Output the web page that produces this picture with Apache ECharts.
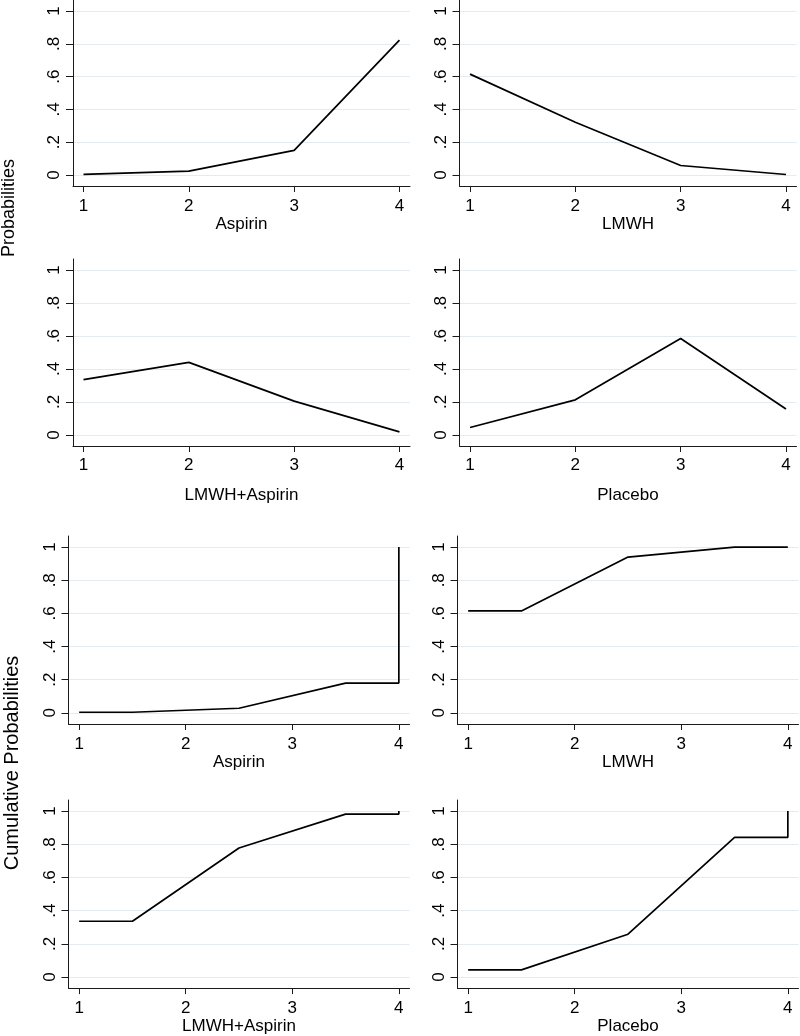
<!DOCTYPE html>
<html>
<head>
<meta charset="utf-8">
<script src="https://cdn.jsdelivr.net/npm/echarts@6/dist/echarts.min.js"></script>
<style>
html,body{margin:0;padding:0;background:#fff;}
#chart{width:800px;height:1036px;}
</style>
</head>
<body>
<div id="chart"></div>
<script>
// ---- data ----
const ranks = [1, 2, 3, 4];
const treatments = ['Aspirin', 'LMWH', 'LMWH+Aspirin', 'Placebo'];
const probAspirin = [0.004, 0.024, 0.150, 0.822];
const probLMWH = [0.615, 0.322, 0.058, 0.003];
const probLMWHAspirin = [0.335, 0.440, 0.205, 0.019];
const probPlacebo = [0.045, 0.213, 0.585, 0.157];
const cumX = [1, 1.5, 2.5, 3.5, 4, 4];
const cumAspirin = [0.004, 0.004, 0.028, 0.180, 0.180, 1];
const cumLMWH = [0.615, 0.615, 0.940, 1.000, 1.000, 1];
const cumLMWHAspirin = [0.336, 0.336, 0.778, 0.982, 0.982, 1];
const cumPlacebo = [0.043, 0.043, 0.258, 0.842, 0.842, 1];
const yTicks = [0, 0.2, 0.4, 0.6, 0.8, 1];
const yTickLabels = ['0', '.2', '.4', '.6', '.8', '1'];
const xTicks = [1, 2, 3, 4];
const yTitleTop = 'Probabilities';
const yTitleBottom = 'Cumulative Probabilities';

// ---- layout ----
const FONT = '"Liberation Sans", Arial, Helvetica, sans-serif';
const grids = [
  {left: 73,    top: 0,   width: 337, height: 186, nameGap: 28, labelMargin: 12},
  {left: 459.5, top: 0,   width: 337, height: 186, nameGap: 28, labelMargin: 12},
  {left: 73,    top: 259, width: 337, height: 187, nameGap: 41, labelMargin: 11},
  {left: 459.5, top: 259, width: 337, height: 187, nameGap: 41, labelMargin: 11},
  {left: 68.5,  top: 536, width: 341, height: 188, nameGap: 20, labelMargin: 12},
  {left: 457.5, top: 536, width: 341, height: 188, nameGap: 20, labelMargin: 12},
  {left: 68.5,  top: 800, width: 341, height: 189, nameGap: 28, labelMargin: 12},
  {left: 457.5, top: 800, width: 341, height: 189, nameGap: 28, labelMargin: 12}
];
const probSeries = [probAspirin, probLMWH, probLMWHAspirin, probPlacebo];
const cumSeries = [cumAspirin, cumLMWH, cumLMWHAspirin, cumPlacebo];

const option = {
  animation: false,
  backgroundColor: '#ffffff',
  textStyle: {fontFamily: FONT},
  grid: grids.map(g => ({left: g.left, top: g.top, width: g.width, height: g.height, containLabel: false})),
  xAxis: grids.map((g, i) => ({
    type: 'value', gridIndex: i, min: 0.9, max: 4.1,
    name: treatments[i % 4], nameLocation: 'middle', nameGap: g.nameGap,
    nameTextStyle: {fontSize: 17, color: '#000', fontFamily: FONT},
    axisLine: {show: true, onZero: false, lineStyle: {color: '#1a1a1a', width: 1}},
    axisTick: {show: true, length: 6, lineStyle: {color: '#1a1a1a', width: 1}, customValues: xTicks},
    axisLabel: {show: true, fontSize: 17, color: '#000', margin: g.labelMargin, customValues: xTicks,
      formatter: v => String(v), fontFamily: FONT},
    splitLine: {show: false}
  })),
  yAxis: grids.map((g, i) => ({
    type: 'value', gridIndex: i, min: -0.067, max: 1.067,
    axisLine: {show: true, onZero: false, lineStyle: {color: '#1a1a1a', width: 1}},
    axisTick: {show: true, length: 7, lineStyle: {color: '#1a1a1a', width: 1}, customValues: yTicks},
    axisLabel: {show: true, fontSize: 17, color: '#000', margin: 10, rotate: 90, customValues: yTicks,
      formatter: v => {
        let best = 0;
        yTicks.forEach((t, k) => { if (Math.abs(t - v) < Math.abs(yTicks[best] - v)) best = k; });
        return yTickLabels[best];
      }, fontFamily: FONT},
    splitLine: {show: true, lineStyle: {color: '#e3eaf0', width: 1}}
  })),
  series: grids.map((g, i) => {
    let data;
    if (i < 4) {
      data = ranks.map((r, k) => [r, probSeries[i][k]]);
    } else {
      data = cumX.map((x, k) => [x, cumSeries[i - 4][k]]);
    }
    return {
      type: 'line', xAxisIndex: i, yAxisIndex: i, data: data,
      symbol: 'none', silent: true,
      lineStyle: {color: '#000', width: 1.7}
    };
  }),
  graphic: [
    {type: 'text', x: 9, y: 208, rotation: Math.PI / 2,
      style: {text: yTitleTop, font: '18px ' + FONT, fill: '#000', textAlign: 'center', textVerticalAlign: 'middle'}},
    {type: 'text', x: 12, y: 763, rotation: Math.PI / 2,
      style: {text: yTitleBottom, font: '20px ' + FONT, fill: '#000', textAlign: 'center', textVerticalAlign: 'middle'}}
  ]
};

const chart = echarts.init(document.getElementById('chart'), null, {renderer: 'canvas', width: 800, height: 1036});
chart.setOption(option);
</script>
</body>
</html>
